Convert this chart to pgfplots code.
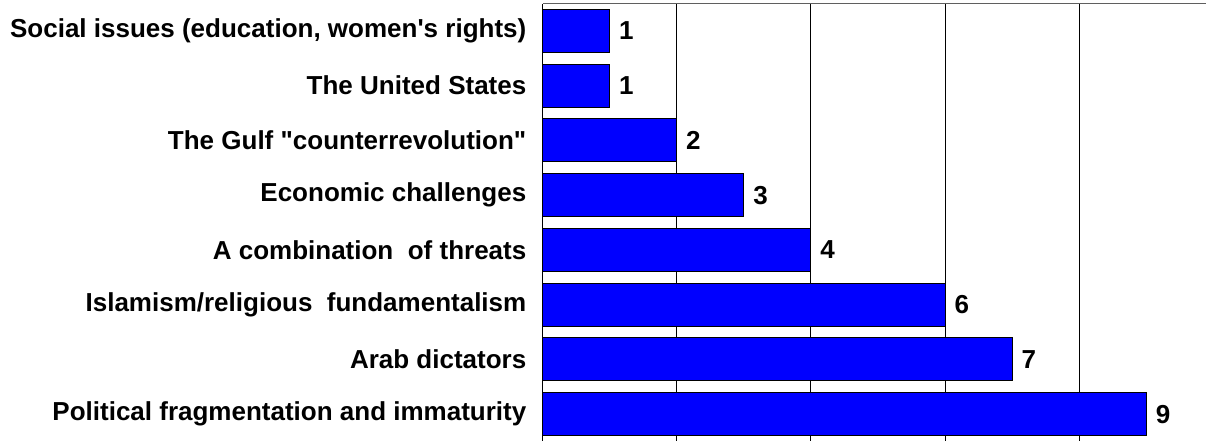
\documentclass[border=0pt]{standalone}
\usepackage{fontspec}
\setmainfont{Liberation Sans}
\usepackage{pgfplots}
\pgfplotsset{compat=1.18}

\definecolor{barblue}{RGB}{0,0,255}
\definecolor{topgray}{RGB}{95,95,95}

\begin{document}
\begin{tikzpicture}
	\begin{axis}[
		at={(542.5pt,-1.5pt)},
		anchor=south west,
		scale only axis,
		width=663.5pt,
		height=438pt,
		xbar,
		bar width=0.785,
		xmin=0, xmax=9.89,
		ymin=-0.5, ymax=7.5,
		axis x line*=bottom,
		axis y line*=left,
		axis line style={black, line width=1pt},
		xtick={2,4,6,8},
		xticklabels={},
		ytick={0,...,7},
		yticklabels={
			Political fragmentation and immaturity,
			Arab dictators,
			Islamism/religious\ \ fundamentalism,
			A combination\ \ of threats,
			Economic challenges,
			The Gulf \textquotedbl counterrevolution\textquotedbl,
			The United States,
			{Social issues (education, women\textquotesingle s rights)}
		},
		major tick length=0pt,
		xmajorgrids=true,
		major grid style={black, line width=0.9pt},
		tick label style={font=\bfseries\fontsize{26}{31}\selectfont},
		yticklabel style={inner sep=0pt, xshift=-16pt},
		nodes near coords,
		/pgf/number format/assume math mode=true,
		every node near coord/.append style={
			font=\bfseries\fontsize{26}{31}\selectfont,
			anchor=west,
			inner sep=0pt,
			xshift=9pt,
		},
		clip=false,
	]
		\addplot[fill=barblue, draw=black, line width=1pt] table[row sep=\\] {
			x y \\
			9 0 \\
			7 1 \\
			6 2 \\
			4 3 \\
			3 4 \\
			2 5 \\
			1 6 \\
			1 7 \\
		};
		\draw[topgray, line width=1.5pt] (rel axis cs:0,1) -- (rel axis cs:1,1);
	\end{axis}
	\pgfresetboundingbox
	\useasboundingbox (0pt,0pt) rectangle (1206pt,440pt);
\end{tikzpicture}
\end{document}
